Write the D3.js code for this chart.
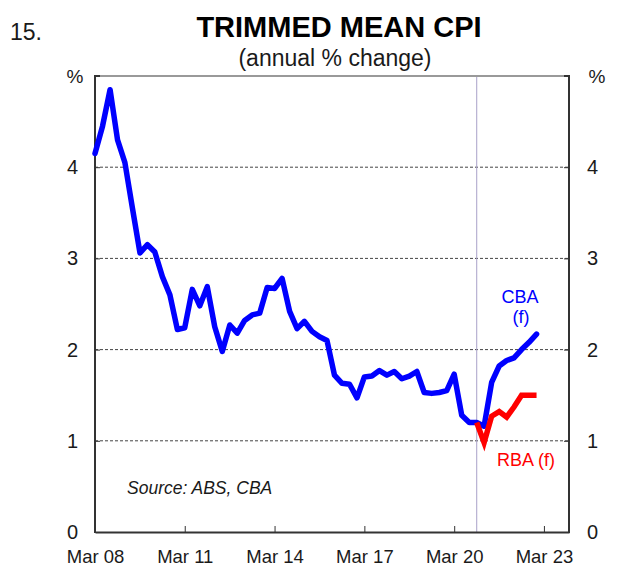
<!DOCTYPE html>
<html>
<head>
<meta charset="utf-8">
<script src="https://cdn.jsdelivr.net/npm/d3@7/dist/d3.min.js"></script>
<style>
  html, body { margin: 0; padding: 0; background: #fff; }
  svg { display: block; font-family: "Liberation Sans", Arial, sans-serif; }
</style>
</head>
<body>
<svg id="chart" width="617" height="576"></svg>
<script>
// ---- Data (quarterly, annual % change) ----
const actualQuarters = [
  "2008-03","2008-06","2008-09","2008-12","2009-03","2009-06","2009-09","2009-12",
  "2010-03","2010-06","2010-09","2010-12","2011-03","2011-06","2011-09","2011-12",
  "2012-03","2012-06","2012-09","2012-12","2013-03","2013-06","2013-09","2013-12",
  "2014-03","2014-06","2014-09","2014-12","2015-03","2015-06","2015-09","2015-12",
  "2016-03","2016-06","2016-09","2016-12","2017-03","2017-06","2017-09","2017-12",
  "2018-03","2018-06","2018-09","2018-12","2019-03","2019-06","2019-09","2019-12",
  "2020-03","2020-06","2020-09","2020-12"
];
const actualValues = [
  4.15, 4.45, 4.85, 4.30, 4.05, 3.55, 3.06, 3.15,
  3.07, 2.80, 2.60, 2.22, 2.24, 2.66, 2.48, 2.69,
  2.25, 1.98, 2.27, 2.18, 2.32, 2.38, 2.40, 2.68,
  2.67, 2.78, 2.42, 2.23, 2.31, 2.20, 2.14, 2.10,
  1.72, 1.63, 1.62, 1.47, 1.70, 1.71, 1.77, 1.72,
  1.76, 1.68, 1.71, 1.76, 1.53, 1.52, 1.53, 1.55,
  1.73, 1.28, 1.20, 1.20
];
const forecastQuarters = ["2021-03","2021-06","2021-09","2021-12","2022-03","2022-06","2022-09","2022-12"];
const cbaForecast = [1.16, 1.64, 1.82, 1.88, 1.91, 2.00, 2.08, 2.17];
const rbaQuarters = ["2020-12","2021-03","2021-06","2021-09","2021-12","2022-03","2022-06","2022-09","2022-12"];
const rbaForecast = [1.20, 0.98, 1.27, 1.32, 1.26, 1.37, 1.50, 1.50, 1.50];
const xTickLabels = ["Mar 08","Mar 11","Mar 14","Mar 17","Mar 20","Mar 23"];
const yTicks = [0, 1, 2, 3, 4];
const gridValues = [1, 2, 3, 4];
const forecastStart = "2020-12";

// ---- Setup ----
const parseQ = d3.timeParse("%Y-%m");
const parseTick = d3.timeParse("%b %y");
const svg = d3.select("#chart");
const pLeft = 95, pRight = 569, pTop = 76, pBottom = 532;

const x = d3.scaleTime()
  .domain([parseQ("2008-03"), parseQ("2024-01")])
  .range([pLeft, pRight]);
const y = d3.scaleLinear().domain([0, 5]).range([pBottom, pTop]);

const textColor = "#1a1a1a";

// Titles
svg.append("text").attr("x", 10).attr("y", 40)
  .attr("font-size", 23).attr("fill", textColor).text("15.");
svg.append("text").attr("x", 339).attr("y", 37).attr("text-anchor", "middle")
  .attr("font-size", 29).attr("font-weight", "bold").attr("fill", "#000")
  .text("TRIMMED MEAN CPI");
svg.append("text").attr("x", 335).attr("y", 66).attr("text-anchor", "middle")
  .attr("font-size", 23).attr("fill", textColor).text("(annual % change)");

// Gridlines
svg.append("g").selectAll("line").data(gridValues).join("line")
  .attr("x1", pLeft).attr("x2", pRight)
  .attr("y1", d => y(d)).attr("y2", d => y(d))
  .attr("stroke", "#444").attr("stroke-width", 1)
  .attr("stroke-dasharray", "3,2");

// Forecast divider
svg.append("line")
  .attr("x1", x(parseQ(forecastStart))).attr("x2", x(parseQ(forecastStart)))
  .attr("y1", pTop).attr("y2", pBottom)
  .attr("stroke", "#a8a0c8").attr("stroke-width", 1);

// Top border
svg.append("line").attr("x1", pLeft).attr("x2", pRight).attr("y1", pTop).attr("y2", pTop)
  .attr("stroke", "#999").attr("stroke-width", 2);

// Axes
const xAxis = d3.axisBottom(x)
  .tickValues(xTickLabels.map(parseTick))
  .tickFormat(d3.timeFormat("%b %y"))
  .tickSizeInner(-6).tickSizeOuter(0).tickPadding(18);
const gx = svg.append("g").attr("transform", `translate(0,${pBottom})`).call(xAxis);

const yLeft = d3.axisLeft(y).tickValues(yTicks).tickFormat(d3.format("d"))
  .tickSizeInner(-5).tickSizeOuter(0).tickPadding(17);
const gyl = svg.append("g").attr("transform", `translate(${pLeft},0)`).call(yLeft);

const yRight = d3.axisRight(y).tickValues(yTicks).tickFormat(d3.format("d"))
  .tickSizeInner(-5).tickSizeOuter(0).tickPadding(18);
const gyr = svg.append("g").attr("transform", `translate(${pRight},0)`).call(yRight);

[gx, gyl, gyr].forEach(g => {
  g.select(".domain").attr("stroke", "#333").attr("stroke-width", 2);
  g.selectAll(".tick line").attr("stroke", "#333").attr("stroke-width", 1);
  g.selectAll(".tick text").attr("font-size", 18.5).attr("fill", textColor)
    .attr("font-family", "'Liberation Sans', Arial, sans-serif");
});
gyl.selectAll(".tick text").attr("font-size", 20);
gyr.selectAll(".tick text").attr("font-size", 20);
gyl.select(".domain").attr("d", `M0,${pTop - 1}V${pBottom + 1}`);
gyr.select(".domain").attr("d", `M0,${pTop - 1}V${pBottom + 1}`);
// top ticks at 5
svg.append("line").attr("x1", pLeft).attr("x2", pLeft + 5).attr("y1", pTop).attr("y2", pTop).attr("stroke", "#333").attr("stroke-width", 2);
svg.append("line").attr("x1", pRight - 5).attr("x2", pRight).attr("y1", pTop).attr("y2", pTop).attr("stroke", "#333").attr("stroke-width", 2);

// "%" unit labels
svg.append("text").attr("x", 75).attr("y", 83).attr("text-anchor", "middle")
  .attr("font-size", 19).attr("fill", textColor).text("%");
svg.append("text").attr("x", 597).attr("y", 83).attr("text-anchor", "middle")
  .attr("font-size", 19).attr("fill", textColor).text("%");

// Lines
const line = d3.line().x(d => x(d.date)).y(d => y(d.value));
const cbaData = actualQuarters.map((q, i) => ({ date: parseQ(q), value: actualValues[i] }))
  .concat(forecastQuarters.map((q, i) => ({ date: parseQ(q), value: cbaForecast[i] })));
const rbaData = rbaQuarters.map((q, i) => ({ date: parseQ(q), value: rbaForecast[i] }));

svg.append("path").datum(cbaData).attr("d", line)
  .attr("fill", "none").attr("stroke", "#0000ff").attr("stroke-width", 5.5)
  .attr("stroke-linejoin", "round").attr("stroke-linecap", "round");
svg.append("path").datum(rbaData).attr("d", line)
  .attr("fill", "none").attr("stroke", "#ff0000").attr("stroke-width", 5.5)
  .attr("stroke-linejoin", "miter").attr("stroke-linecap", "butt");

// Annotations
svg.append("text").attr("x", 520).attr("y", 303).attr("text-anchor", "middle")
  .attr("font-size", 18).attr("fill", "#0000ff").text("CBA");
svg.append("text").attr("x", 521).attr("y", 323).attr("text-anchor", "middle")
  .attr("font-size", 18).attr("fill", "#0000ff").text("(f)");
svg.append("text").attr("x", 526).attr("y", 466).attr("text-anchor", "middle")
  .attr("font-size", 18).attr("fill", "#ff0000").text("RBA (f)");
svg.append("text").attr("x", 127).attr("y", 494)
  .attr("font-size", 17.5).attr("font-style", "italic").attr("fill", textColor)
  .text("Source: ABS, CBA");
</script>
</body>
</html>
